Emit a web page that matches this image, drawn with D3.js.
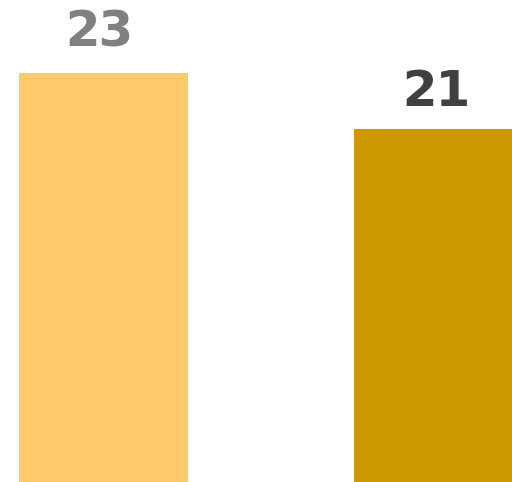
<!DOCTYPE html>
<html>
<head>
<meta charset="utf-8">
<script src="https://cdn.jsdelivr.net/npm/d3@7"></script>
<style>
  html, body { margin: 0; padding: 0; background: #ffffff; overflow: hidden; }
  svg { display: block; }
</style>
</head>
<body>
<script>
// Two-bar comparison, value labels above each bar
const categories = ["Before", "After"];
const values = [23, 21];
const barColors = ["#FECB6A", "#CC9900"];
const labelColors = ["#808080", "#404040"];

const width = 512, height = 482;

const svg = d3.select("body").append("svg")
  .attr("width", width)
  .attr("height", height);

const x = d3.scaleBand()
  .domain(categories)
  .range([19, 523])
  .paddingInner(0.4955)
  .paddingOuter(0);

// Baseline sits below the visible area; 28px per unit
const y = d3.scaleLinear()
  .domain([0, 23])
  .range([717, 73]);

svg.selectAll("rect.bar")
  .data(values)
  .join("rect")
  .attr("class", "bar")
  .attr("x", (d, i) => x(categories[i]))
  .attr("width", x.bandwidth())
  .attr("y", d => y(d))
  .attr("height", d => y(0) - y(d))
  .attr("fill", (d, i) => barColors[i]);

// label placement tweaks (horizontal nudge, lift above bar top)
const labelNudge = [-5, -3];
const labelLift = [27, 23.5];

svg.selectAll("text.value")
  .data(values)
  .join("text")
  .attr("class", "value")
  .attr("x", (d, i) => x(categories[i]) + x.bandwidth() / 2 + labelNudge[i])
  .attr("y", (d, i) => y(d) - labelLift[i])
  .attr("text-anchor", "middle")
  .attr("font-family", "'DejaVu Sans', Verdana, sans-serif")
  .attr("font-weight", "bold")
  .attr("font-size", 50)
  .attr("letter-spacing", -2)
  .attr("fill", (d, i) => labelColors[i])
  .text(d => d);
</script>
</body>
</html>
